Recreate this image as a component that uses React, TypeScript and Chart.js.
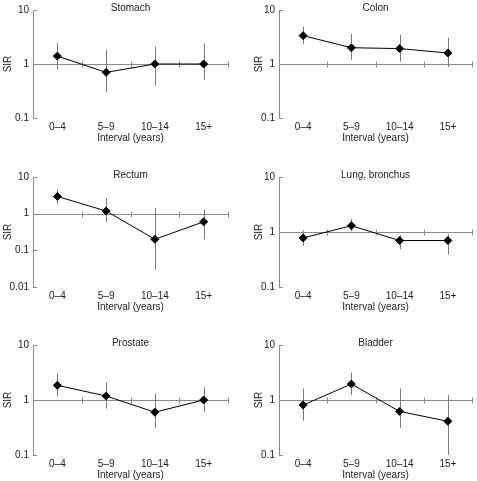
import React, { useEffect, useRef } from "react";
import { Chart, registerables } from "chart.js";

Chart.register(...registerables);

// ---------- data ----------
const intervals = ["0–4", "5–9", "10–14", "15+"];

const stomachSIR = [1.4, 0.7, 1.0, 1.0];
const stomachLow = [0.8, 0.3, 0.4, 0.5];
const stomachHigh = [2.45, 1.85, 2.1, 2.4];

const colonSIR = [3.35, 2.0, 1.93, 1.6];
const colonLow = [2.35, 1.2, 1.1, 0.88];
const colonHigh = [4.9, 3.6, 3.45, 3.05];

const rectumSIR = [2.95, 1.18, 0.2, 0.6];
const rectumLow = [1.87, 0.59, 0.03, 0.2];
const rectumHigh = [4.5, 2.65, 1.45, 1.3];

const lungSIR = [0.78, 1.3, 0.7, 0.7];
const lungLow = [0.56, 1.03, 0.49, 0.39];
const lungHigh = [1.06, 1.71, 0.88, 0.91];

const prostateSIR = [1.85, 1.18, 0.6, 1.0];
const prostateLow = [1.18, 0.7, 0.31, 0.6];
const prostateHigh = [3.0, 2.1, 1.32, 1.7];

const bladderSIR = [0.81, 1.95, 0.62, 0.41];
const bladderLow = [0.42, 1.23, 0.31, 0.1];
const bladderHigh = [1.62, 3.15, 1.62, 1.23];

const yTicksStandard = [0.1, 1, 10];
const yTicksRectum = [0.01, 0.1, 1, 10];
const yTickLabels: Record<string, string> = { "0.01": "0.01", "0.1": "0.1", "1": "1", "10": "10" };

const panelTitles = ["Stomach", "Colon", "Rectum", "Lung, bronchus", "Prostate", "Bladder"];
const panelSIR = [stomachSIR, colonSIR, rectumSIR, lungSIR, prostateSIR, bladderSIR];
const panelLow = [stomachLow, colonLow, rectumLow, lungLow, prostateLow, bladderLow];
const panelHigh = [stomachHigh, colonHigh, rectumHigh, lungHigh, prostateHigh, bladderHigh];
const panelTicks = [yTicksStandard, yTicksStandard, yTicksRectum, yTicksStandard, yTicksStandard, yTicksStandard];

// ---------- layout ----------
const FONT = "'Liberation Sans', Arial, sans-serif";
const TEXT = "#222";
const AXIS = "#8a8a8a";
const ERR = "#7a7a7a";

const cols = [
  { canvasLeft: 0, canvasWidth: 238, chartLeft: 33, chartRight: 228 },
  { canvasLeft: 251, canvasWidth: 226, chartLeft: 279, chartRight: 475 },
];
const rows = [
  { chartTop: 9, chartBottom: 118 },
  { chartTop: 176, chartBottom: 287 },
  { chartTop: 344, chartBottom: 455 },
];

const decorPlugin = {
  id: "decor",
  beforeDatasetsDraw(chart: any) {
    const { ctx, chartArea } = chart;
    const x = chart.scales.x;
    const y = chart.scales.y;
    const ds = chart.data.datasets[0];
    ctx.save();
    ctx.strokeStyle = AXIS;
    ctx.lineWidth = 1;
    for (const t of y.ticks) {
      const py = Math.round(y.getPixelForValue(t.value)) + 0.5;
      ctx.beginPath();
      ctx.moveTo(chartArea.left, py);
      ctx.lineTo(chartArea.left + 4, py);
      ctx.stroke();
    }
    const y1 = Math.round(y.getPixelForValue(1)) + 0.5;
    ctx.beginPath();
    ctx.moveTo(chartArea.left, y1);
    ctx.lineTo(chartArea.right, y1);
    ctx.stroke();
    const n = x.getLabels().length;
    const half = (x.getPixelForValue(1) - x.getPixelForValue(0)) / 2;
    for (let i = 0; i < n; i++) {
      const px = Math.round(x.getPixelForValue(i) + half) + 0.5;
      ctx.beginPath();
      ctx.moveTo(px, y1 - 3);
      ctx.lineTo(px, y1 + 3);
      ctx.stroke();
    }
    ctx.strokeStyle = ERR;
    for (let i = 0; i < ds.data.length; i++) {
      const px = Math.round(x.getPixelForValue(i)) + 0.5;
      ctx.beginPath();
      ctx.moveTo(px, y.getPixelForValue(ds.low[i]));
      ctx.lineTo(px, y.getPixelForValue(ds.high[i]));
      ctx.stroke();
    }
    ctx.restore();
  },
  afterDraw(chart: any) {
    const { ctx, chartArea } = chart;
    ctx.save();
    ctx.fillStyle = TEXT;
    ctx.font = `10px ${FONT}`;
    ctx.textAlign = "center";
    ctx.textBaseline = "middle";
    ctx.fillText(chart.options.panelTitle, (chartArea.left + chartArea.right) / 2, chartArea.top - 2);
    ctx.restore();
  },
};

function Panel({ index }: { index: number }) {
  const ref = useRef<HTMLCanvasElement | null>(null);
  const col = cols[index % 2];
  const row = rows[Math.floor(index / 2)];
  const canvasTop = row.chartTop - 9;
  const canvasHeight = row.chartBottom - canvasTop + 26;

  useEffect(() => {
    if (!ref.current) return;
    const ticks = panelTicks[index];
    const chart = new Chart(ref.current, {
      type: "line",
      data: {
        labels: intervals,
        datasets: [
          {
            data: panelSIR[index],
            low: panelLow[index],
            high: panelHigh[index],
            borderColor: "#000",
            borderWidth: 1,
            backgroundColor: "#000",
            pointStyle: "rectRot",
            pointRadius: 4,
            pointBorderWidth: 1,
            pointBackgroundColor: "#000",
            pointBorderColor: "#000",
            tension: 0,
            clip: false,
          } as any,
        ],
      },
      options: {
        panelTitle: panelTitles[index],
        animation: false,
        responsive: false,
        maintainAspectRatio: false,
        events: [],
        layout: {
          padding: {
            top: row.chartTop - canvasTop,
            right: col.canvasLeft + col.canvasWidth - col.chartRight,
            bottom: 0,
            left: 0,
          },
        },
        plugins: { legend: { display: false }, tooltip: { enabled: false }, title: { display: false } },
        scales: {
          x: {
            type: "category",
            offset: true,
            grid: { display: false, drawTicks: false },
            border: { display: false },
            ticks: { color: TEXT, font: { family: FONT, size: 10 }, padding: 3, maxRotation: 0, autoSkip: false },
            title: { display: true, text: "Interval (years)", color: TEXT, font: { family: FONT, size: 10 }, padding: { top: 0, bottom: 0 } },
            afterFit: (s: any) => {
              s.height = canvasHeight - (row.chartBottom - canvasTop);
            },
          },
          y: {
            type: "logarithmic",
            min: ticks[0],
            max: ticks[ticks.length - 1],
            grid: { display: true, drawOnChartArea: false, drawTicks: false },
            border: { display: true, color: AXIS, width: 1 },
            ticks: {
              color: TEXT,
              font: { family: FONT, size: 10 },
              padding: 4,
              autoSkip: false,
              callback: (v: any) => yTickLabels[String(v)] ?? "",
            },
            afterBuildTicks: (s: any) => {
              s.ticks = ticks.map((v) => ({ value: v }));
            },
            title: { display: true, text: "SIR", color: TEXT, font: { family: FONT, size: 10 }, padding: { top: 2, bottom: 0 } },
            afterFit: (s: any) => {
              s.width = col.chartLeft - col.canvasLeft;
            },
          },
        },
      } as any,
      plugins: [decorPlugin],
    });
    return () => chart.destroy();
  }, [index]);

  return (
    <canvas
      ref={ref}
      width={col.canvasWidth}
      height={canvasHeight}
      style={{ position: "absolute", left: col.canvasLeft, top: canvasTop, width: col.canvasWidth, height: canvasHeight }}
    />
  );
}

export default function App() {
  return (
    <div style={{ position: "absolute", left: 0, top: 0, width: 477, height: 481, background: "#fff", overflow: "hidden" }}>
      {panelTitles.map((_, i) => (
        <Panel key={i} index={i} />
      ))}
    </div>
  );
}
